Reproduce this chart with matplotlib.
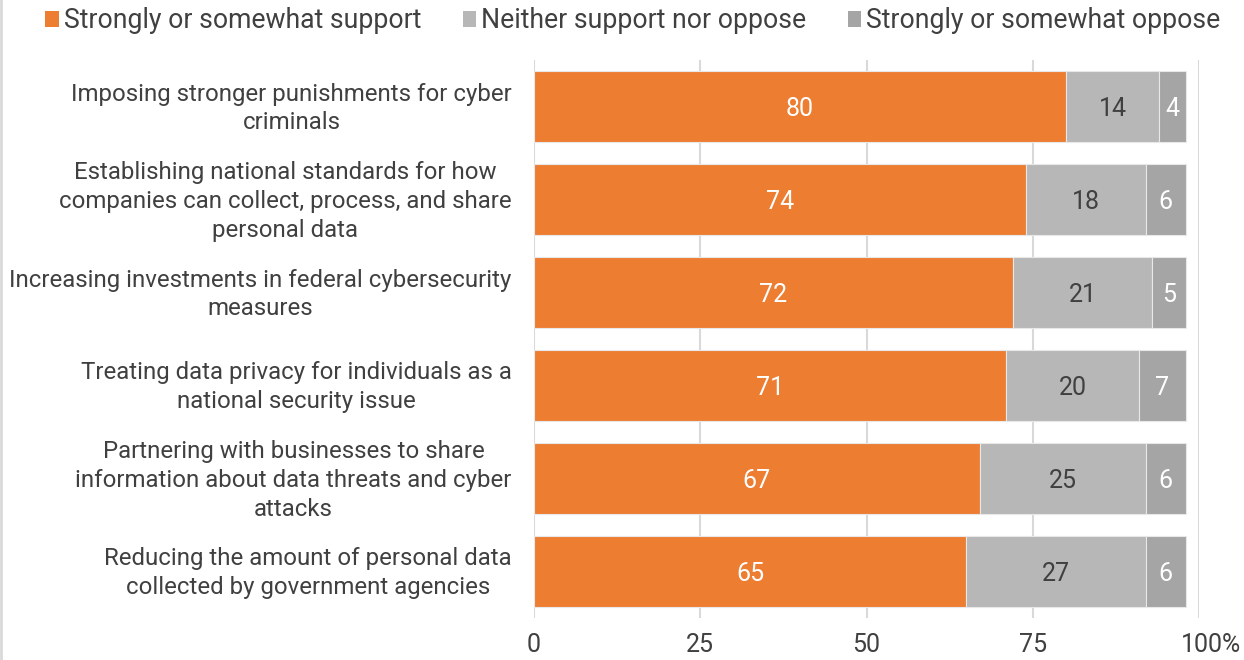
import matplotlib
matplotlib.use("Agg")
import matplotlib.pyplot as plt
import matplotlib.transforms as mtransforms
from matplotlib.patches import Patch
from matplotlib.lines import Line2D

plt.rcParams['font.family'] = ['Roboto', 'DejaVu Sans']

categories = [
    "Imposing stronger punishments for cyber\ncriminals",
    "Establishing national standards for how\ncompanies can collect, process, and share\npersonal data",
    "Increasing investments in federal cybersecurity\nmeasures",
    "Treating data privacy for individuals as a\nnational security issue",
    "Partnering with businesses to share\ninformation about data threats and cyber\nattacks",
    "Reducing the amount of personal data\ncollected by government agencies",
]
support = [80, 74, 72, 71, 67, 65]
neither = [14, 18, 21, 20, 25, 27]
oppose = [4, 6, 5, 7, 6, 6]

series_names = ["Strongly or somewhat support", "Neither support nor oppose",
                "Strongly or somewhat oppose"]
series_colors = ["#ED7D31", "#B7B7B7", "#A5A5A5"]
label_colors = ["white", "#404040", "white"]

x_ticks = [0, 25, 50, 75, 100]
x_tick_labels = ["0", "25", "50", "75", "100%"]

text_color = "#404040"

fig = plt.figure(figsize=(12.44, 6.6), dpi=100)
ax = fig.add_axes([534 / 1244, 1 - 618 / 660, 665 / 1244, 558 / 660])

y = list(range(len(categories)))
left = [0] * len(categories)
for vals, color, lcolor in zip([support, neither, oppose], series_colors, label_colors):
    bars = ax.barh(y, vals, left=left, height=0.763, color=color,
                   edgecolor="#E8E8E8", linewidth=0.8, zorder=3)
    for b, v in zip(bars, vals):
        ax.annotate(f"{v}", (b.get_x() + b.get_width() / 2, b.get_y() + b.get_height() / 2),
                    xytext=(0, -1.5), textcoords="offset points",
                    ha="center", va="center", color=lcolor, fontsize=18, zorder=4)
    left = [l + v for l, v in zip(left, vals)]

ax.set_xlim(0, 100)
ax.set_ylim(len(categories) - 0.5, -0.5)
ax.set_xticks(x_ticks)
ax.set_xticklabels(x_tick_labels, fontsize=18, color=text_color)
ax.set_yticks(y)
ax.set_yticklabels(categories, fontsize=17.3, color=text_color,
                   multialignment="center", linespacing=1.33)
ax.tick_params(axis="x", length=0, pad=11)
ax.tick_params(axis="y", length=0, pad=16)
ax.xaxis.grid(True, color="#D9D9D9", linewidth=1.5, zorder=0)
ax.set_axisbelow(True)
for s in ax.spines.values():
    s.set_visible(False)

# nudge the last x tick label to the right, category labels slightly up
lbl = ax.get_xticklabels()[-1]
lbl.set_transform(lbl.get_transform() + mtransforms.ScaledTranslation(0.12, 0, fig.dpi_scale_trans))
for t in ax.get_yticklabels():
    t.set_transform(t.get_transform() + mtransforms.ScaledTranslation(0, 0.035, fig.dpi_scale_trans))

handles = [Patch(facecolor=c, edgecolor="none") for c in series_colors]
leg = fig.legend(handles, series_names, loc="center", ncol=3,
                 bbox_to_anchor=(633 / 1244, 1 - 21 / 660), frameon=False,
                 fontsize=19.2, handlelength=0.5, handleheight=0.5,
                 handletextpad=0.2, columnspacing=1.55, borderaxespad=0)
for t in leg.get_texts():
    t.set_color(text_color)

# chart-area left border
fig.add_artist(Line2D([1 / 1244, 1 / 1244], [0, 1], transform=fig.transFigure,
                      color="#D9D9D9", linewidth=2))

fig.savefig("out.png", dpi=100)
